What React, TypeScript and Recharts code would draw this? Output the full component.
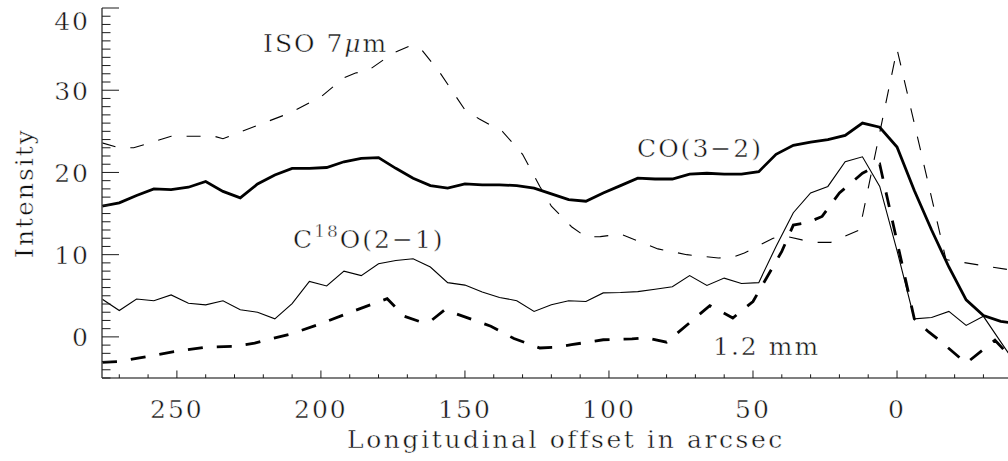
import { LineChart, Line, XAxis, YAxis } from "recharts";

/* Offsets (arcsec) shared by the CO and C18O cuts */
const gridOffsets = [
  276, 270, 264, 258, 252, 246, 240, 234, 228, 222, 216, 210, 204, 198, 192, 186, 180, 174,
  168, 162, 156, 150, 144, 138, 132, 126, 120, 114, 108, 102, 96, 90, 84, 78, 72, 66, 60, 54,
  48, 42, 36, 30, 24, 18, 12, 6, 0, -6, -12, -18, -24, -30, -36, -42,
];
const co32 = [
  15.9, 16.3, 17.2, 18.0, 17.9, 18.2, 18.9, 17.7, 16.9, 18.6, 19.7, 20.5, 20.5, 20.6, 21.3, 21.7,
  21.8, 20.5, 19.3, 18.4, 18.1, 18.6, 18.5, 18.5, 18.4, 18.1, 17.4, 16.7, 16.5, 17.5, 18.4, 19.3,
  19.2, 19.2, 19.8, 19.9, 19.8, 19.8, 20.1, 22.2, 23.3, 23.7, 24.0, 24.5, 26.0, 25.5, 23.1, 17.8,
  13.0, 8.5, 4.5, 2.6, 1.9, 1.6,
];
const c18o21 = [
  4.6, 3.2, 4.6, 4.4, 5.1, 4.1, 3.9, 4.4, 3.3, 3.0, 2.2, 4.05, 6.75, 6.2, 8.0, 7.45, 8.9, 9.3,
  9.5, 8.5, 6.6, 6.3, 5.45, 4.8, 4.4, 3.1, 3.9, 4.4, 4.3, 5.35, 5.4, 5.5, 5.8, 6.1, 7.45, 6.25,
  7.15, 6.5, 6.6, 11.0, 15.1, 17.5, 18.3, 21.3, 21.9, 18.3, 10.5, 2.2, 2.35, 3.1, 1.4, 2.5, -0.6,
  -3.7,
];

/* ISO 7 micron cut */
const isoOffsets = [
  276, 270, 265, 252, 237, 234, 220, 211, 200, 192, 188, 184, 175, 169, 165, 159, 150, 145, 137,
  130, 124, 120, 113, 108, 103, 96, 83, 73, 62, 57, 53, 43, 38, 33, 28, 23, 13, 0, -17, -31, -42,
];
const iso7 = [
  23.6, 23.0, 23.0, 24.4, 24.4, 24.1, 26.0, 27.2, 29.2, 31.5, 32.1, 32.3, 34.5, 35.4, 34.9, 32.3,
  27.6, 26.5, 25.0, 22.2, 18.3, 15.9, 13.4, 12.15, 12.2, 12.5, 10.7, 10.0, 9.6, 9.7, 10.2, 12.0,
  12.2, 11.8, 11.5, 11.5, 13.0, 35.0, 9.4, 8.6, 8.0,
];

/* 1.2 mm continuum cut */
const mmOffsets = [
  276, 270, 263, 251, 240, 230, 223, 210, 200, 189, 177, 171, 166, 162, 157, 141, 133, 124, 118,
  113, 102, 92, 87, 80, 65, 57, 50, 40, 36, 31, 26, 20, 12, 6, -6, -11, -15, -24, -34, -42,
];
const mm12 = [
  -3.1, -3.0, -2.55, -1.8, -1.25, -1.15, -0.75, 0.4, 1.6, 3.1, 4.65, 2.5, 1.9, 1.9, 3.3, 1.3,
  -0.2, -1.35, -1.25, -0.95, -0.35, -0.25, -0.1, -0.65, 3.8, 2.3, 4.3, 10.4, 13.6, 13.9, 14.65,
  17.5, 19.9, 21.0, 2.2, 0.6, -0.5, -3.2, -0.4, -3.4,
];

/* Axes */
const xDomain = [-42, 276];
const yDomain = [-5, 40];
const xMajor = [250, 200, 150, 100, 50, 0];
const yMajor = [0, 10, 20, 30, 40];
const xTicks = [270, 260, 250, 240, 230, 220, 210, 200, 190, 180, 170, 160, 150, 140, 130, 120, 110, 100, 90, 80, 70, 60, 50, 40, 30, 20, 10, 0, -10, -20, -30, -40];
const yTicks: number[] = [];
for (let v = -5; v <= 40; v++) yTicks.push(v);

const toPoints = (xs: number[], ys: number[]) => xs.map((x, i) => ({ x, y: ys[i] }));

const FONT = "'DejaVu Serif', 'Liberation Serif', serif";
const INK = "#1a1a1a";
const AXIS = "#555";

// white hairline stroke thins the glyphs a bit, closer to the plotting font
const txt = {
  fontFamily: FONT,
  fontSize: 25,
  fill: "#111",
  stroke: "#fff",
  strokeWidth: 0.45,
  letterSpacing: 2,
} as const;

function XTick(props: any) {
  const { x, y, payload, side } = props;
  const major = xMajor.includes(payload.value);
  const len = major ? 7.5 : 3.7;
  const dir = side === "bottom" ? -1 : 1;
  return (
    <g>
      <line x1={x} x2={x} y1={y} y2={y + dir * len} stroke={INK} strokeWidth={1} />
      {side === "bottom" && major && (
        <text x={x} y={y + 40} textAnchor="middle" style={txt}>
          {payload.value}
        </text>
      )}
    </g>
  );
}

function YTick(props: any) {
  const { x, y, payload, side } = props;
  const major = yMajor.includes(payload.value);
  const len = major ? 17 : 8.5;
  const dir = side === "left" ? 1 : -1;
  // top label sits a little lower, as in the original plot
  const dy = payload.value === 40 ? 22 : 9.5;
  return (
    <g>
      <line x1={x} x2={x + dir * len} y1={y} y2={y} stroke={INK} strokeWidth={1} />
      {side === "left" && major && (
        <text x={x - 12} y={y + dy} textAnchor="end" style={txt}>
          {payload.value}
        </text>
      )}
    </g>
  );
}

export default function App() {
  return (
    <div
      style={{
        position: "absolute",
        left: 0,
        top: 0,
        width: 1008,
        height: 461,
        overflow: "hidden",
        background: "#fff",
      }}
    >
      <LineChart width={1030} height={461} margin={{ top: 8, right: 12, left: 0, bottom: 0 }}>
        <XAxis
          xAxisId="bottom"
          type="number"
          dataKey="x"
          orientation="bottom"
          reversed
          domain={xDomain}
          allowDataOverflow
          ticks={xTicks}
          interval={0}
          height={83}
          tickSize={0}
          tickMargin={0}
          tickLine={false}
          axisLine={{ stroke: AXIS, strokeWidth: 1.6 }}
          tick={<XTick side="bottom" />}
        />
        <XAxis
          xAxisId="top"
          type="number"
          dataKey="x"
          orientation="top"
          reversed
          domain={xDomain}
          allowDataOverflow
          ticks={xTicks}
          interval={0}
          height={0}
          tickSize={0}
          tickMargin={0}
          tickLine={false}
          axisLine={{ stroke: AXIS, strokeWidth: 1.6 }}
          tick={<XTick side="top" />}
        />
        <YAxis
          yAxisId="left"
          type="number"
          orientation="left"
          domain={yDomain}
          allowDataOverflow
          ticks={yTicks}
          interval={0}
          width={102}
          tickSize={0}
          tickMargin={0}
          tickLine={false}
          axisLine={{ stroke: AXIS, strokeWidth: 1.6 }}
          tick={<YTick side="left" />}
        />
        <YAxis
          yAxisId="right"
          type="number"
          orientation="right"
          domain={yDomain}
          allowDataOverflow
          ticks={yTicks}
          interval={0}
          width={0}
          tickSize={0}
          tickMargin={0}
          tickLine={false}
          axisLine={{ stroke: AXIS, strokeWidth: 1.6 }}
          tick={<YTick side="right" />}
        />

        {/* ISO 7um: thin dashed */}
        <Line
          xAxisId="bottom"
          yAxisId="left"
          data={toPoints(isoOffsets, iso7)}
          dataKey="y"
          type="linear"
          stroke="#000"
          strokeWidth={1.1}
          strokeDasharray="14 15"
          dot={false}
          activeDot={false}
          isAnimationActive={false}
        />
        {/* CO(3-2): thick solid */}
        <Line
          xAxisId="bottom"
          yAxisId="left"
          data={toPoints(gridOffsets, co32)}
          dataKey="y"
          type="linear"
          stroke="#000"
          strokeWidth={2.8}
          dot={false}
          activeDot={false}
          isAnimationActive={false}
        />
        {/* C18O(2-1): thin solid */}
        <Line
          xAxisId="bottom"
          yAxisId="left"
          data={toPoints(gridOffsets, c18o21)}
          dataKey="y"
          type="linear"
          stroke="#000"
          strokeWidth={1.1}
          dot={false}
          activeDot={false}
          isAnimationActive={false}
        />
        {/* 1.2 mm: thick dashed */}
        <Line
          xAxisId="bottom"
          yAxisId="left"
          data={toPoints(mmOffsets, mm12)}
          dataKey="y"
          type="linear"
          stroke="#000"
          strokeWidth={2.8}
          strokeDasharray="15 14"
          dot={false}
          activeDot={false}
          isAnimationActive={false}
        />

        {/* annotations */}
        <text x={263} y={52} style={txt}>
          ISO 7<tspan fontStyle="italic">μ</tspan>m
        </text>
        <text x={637} y={157} style={txt}>
          CO(3−2)
        </text>
        <text x={293} y={248} style={txt}>
          C
          <tspan fontSize={17} dy={-11}>
            18
          </tspan>
          <tspan dy={11}>O(2−1)</tspan>
        </text>
        <text x={713} y={355} style={txt}>
          1.2 mm
        </text>
        <text x={566} y={448} textAnchor="middle" style={{ ...txt, letterSpacing: 2.6 }}>
          Longitudinal offset in arcsec
        </text>
        <text x={33} y={193} textAnchor="middle" transform="rotate(-90 33 193)" style={txt}>
          Intensity
        </text>
      </LineChart>
    </div>
  );
}
